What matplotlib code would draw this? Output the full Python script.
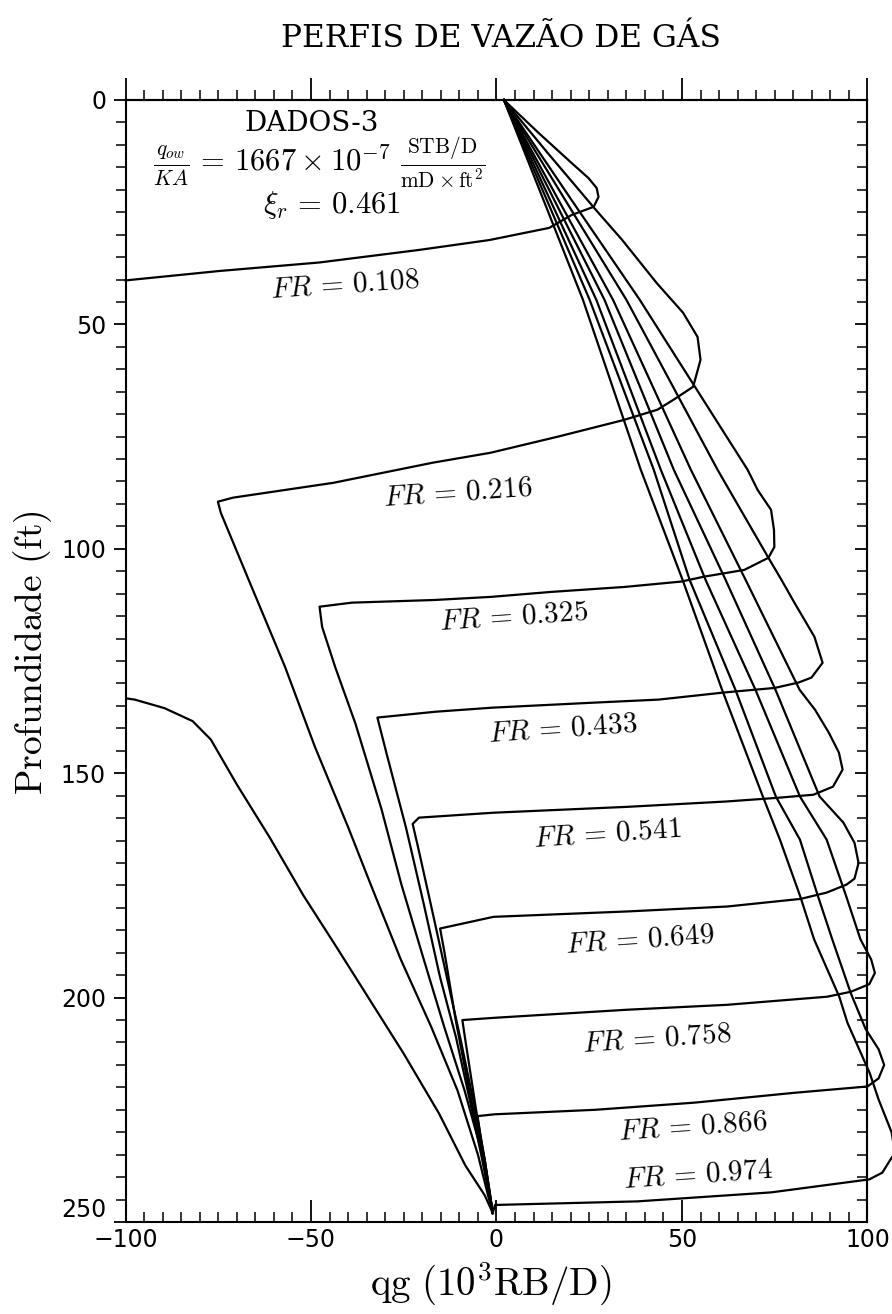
import matplotlib
matplotlib.use('Agg')
import matplotlib.pyplot as plt
from matplotlib.ticker import MultipleLocator

plt.rcParams['mathtext.fontset'] = 'cm'

# gas rate qg (10^3 RB/D) vs depth (ft)
q_108 = [2, 11.3, 20.2, 24.8, 27.0, 27.5, 26.2, 20.3, 14.2, -1.9, -20.8, -47.7, -74.7, -100]
d_108 = [0, 7.3, 14.0, 17.4, 19.6, 21.6, 23.8, 25.6, 28.5, 31.2, 33.4, 36.2, 38.1, 40.2]

q_216 = [2, 14, 26.8, 33.9, 43.2, 50.3, 54.2, 55.0, 53.0, 47.7, 43.4, 34.3, 16.6, -1.6, -17.1, -44.0,
         -71.0, -75.1, -74.3, -66.0, -57.0, -49.0, -40.0, -34.0, -25.8, -17.6, -10.5, -5.0, -2.3, -1.0]
d_216 = [0, 12, 24.5, 31.2, 40.8, 47.4, 52.8, 57.9, 63.9, 66.8, 69.0, 71.3, 75.0, 78.6, 80.8, 85.3,
         88.6, 89.5, 92.0, 108.5, 126.3, 144.0, 162.0, 174.6, 191.5, 206.5, 220.7, 235.0, 244.0, 248.0]

q_325 = [2, 20, 38.6, 67.7, 70.4, 74.0, 74.8, 74.9, 73.3, 66.8, 56.0, 49.8, 34.5, 14.8, -1.3, -16.6,
         -39.0, -47.7, -47.0, -43.5, -38.0, -31.0, -25.7, -19.6, -14.1, -8.6, -3.8, -1.0]
d_325 = [0, 22, 44.5, 82.4, 86.9, 91.3, 95.8, 99.6, 102.0, 104.7, 106.2, 107.3, 108.5, 109.6, 110.7, 111.4,
         112.0, 112.9, 117.4, 126.3, 139.0, 158.0, 174.6, 191.5, 206.5, 220.7, 235.0, 248.0]

q_433 = [2, 35.0, 59.6, 73.3, 76.8, 80.3, 83.0, 85.7, 87.9, 84.9, 81.4, 75.0, 61.5, 43.7, 25.7, -1.2,
         -16.4, -32.1, -29.7, -24.4, -19.7, -15.2, -10.9, -7.1, -3.9, -1.0]
d_433 = [0, 44.5, 82.4, 102.0, 106.9, 112.0, 115.8, 119.6, 125.4, 128.7, 129.8, 131.0, 132.0, 133.6, 134.3, 135.4,
         136.3, 137.6, 145.4, 162.1, 178.8, 195.5, 208.9, 223.2, 235.9, 248.0]

q_541 = [2, 31.4, 52.4, 67.2, 81.7, 85.9, 89.6, 92.3, 93.3, 90.7, 85.4, 75.5, 62.0, 35.1, -0.8, -20.9,
         -22.6, -21.0, -17.5, -13.5, -9.5, -6.0, -3.2, -1.0]
d_541 = [0, 44.5, 82.4, 107.0, 131.4, 135.9, 141.0, 145.4, 149.2, 153.0, 154.8, 155.5, 156.3, 157.5, 158.8, 159.9,
         161.3, 167.0, 180.0, 195.0, 210.0, 224.0, 236.0, 248.0]

q_649 = [2, 29.1, 47.8, 61.8, 75.2, 87.1, 93.5, 96.5, 97.6, 96.5, 94.4, 89.0, 82.0, 62.2, 35.3, -0.8,
         -15.2, -14.0, -11.0, -7.5, -4.0, -1.0]
d_649 = [0, 44.5, 82.4, 107.0, 131.4, 155.2, 161.0, 165.5, 170.0, 173.5, 174.8, 176.6, 178.0, 179.7, 180.8, 182.0,
         184.6, 190.0, 205.0, 220.0, 234.0, 248.0]

q_758 = [2, 26.9, 44.3, 56.4, 69.8, 81.8, 89.0, 94.3, 98.1, 101.0, 102.0, 100.5, 95.5, 89.1, 62.2, 35.2,
         -0.6, -9.2, -8.3, -5.5, -3.0, -1.0]
d_758 = [0, 44.5, 82.4, 107.0, 131.4, 155.2, 164.8, 177.5, 187.0, 191.5, 194.5, 197.0, 198.7, 199.8, 201.6, 202.7,
         204.5, 205.0, 210.0, 225.0, 237.0, 248.0]

q_866 = [2, 25.1, 42.4, 52.1, 64.4, 75.3, 81.8, 86.5, 90.5, 95.5, 99.5, 103.0, 104.5, 103.0, 100.0, 80.4,
         53.4, 26.5, -0.5, -5.1, -4.3, -2.5, -1.0]
d_866 = [0, 44.5, 82.4, 107.0, 131.4, 155.2, 164.8, 177.0, 187.0, 199.0, 207.0, 211.5, 215.0, 218.0, 219.8, 221.2,
         223.4, 225.0, 226.0, 226.4, 231.0, 240.0, 248.0]

q_974 = [2, 23.3, 38.9, 50.2, 60.8, 71.8, 76.4, 81.9, 85.6, 92.4, 94.6, 100.6, 103.0, 106.5, 107.4, 104.0,
         100.5, 74.0, 38.0, -0.4, -1.0]
d_974 = [0, 44.5, 82.4, 107.0, 131.4, 155.2, 164.8, 177.5, 187.0, 199.8, 205.6, 216.8, 222.7, 230.0, 234.5, 239.0,
         240.5, 243.4, 245.4, 246.2, 248.0]

# unlabeled curve entering from the left edge
q_left = [-100, -97.5, -89.5, -81.9, -77.0, -70.0, -61.0, -52.0, -43.0, -34.0, -25.0, -15.5, -8.4, -3.2, -1.0]
d_left = [133.3, 133.6, 135.5, 138.4, 142.5, 152.5, 164.5, 177.3, 188.9, 200.7, 212.5, 225.8, 237.4, 244.0, 248.0]

fr_names = ['0.108', '0.216', '0.325', '0.433', '0.541', '0.649', '0.758', '0.866', '0.974']
curves = [(q_108, d_108), (q_216, d_216), (q_325, d_325), (q_433, d_433), (q_541, d_541),
          (q_649, d_649), (q_758, d_758), (q_866, d_866), (q_974, d_974)]

fig = plt.figure(figsize=(8.92, 13.14), dpi=100)
ax = fig.add_axes([0.1407, 0.0700, 0.8318, 0.8539])

for q, d in curves:
    ax.plot(q, d, color='black', lw=1.6, clip_on=False, solid_joinstyle='round')
ax.plot(q_left, d_left, color='black', lw=1.6)

# where each FR label sits (data coords)
label_xy = [(-41, 41), (-10.4, 87.5), (4.6, 115.1), (17.8, 140), (29.8, 163.3),
            (38.6, 187), (43.3, 209), (52.9, 228.7), (54.3, 239.4)]
for name, (lx, ly) in zip(fr_names, label_xy):
    ax.text(lx, ly, r'$FR\,=\,%s$' % name, fontsize=21, ha='center', va='center', rotation=4)

ax.text(-49.8, 5.3, 'DADOS-3', family='DejaVu Serif', fontsize=20, ha='center', va='center')
ax.text(-47.8, 14.0, r'$\frac{q_{ow}}{KA}\,=\,1667 \times 10^{-7}\ \frac{\mathrm{STB/D}}{\mathrm{mD}\times\mathrm{ft}^{2}}$',
        fontsize=22, ha='center', va='center')
ax.text(-44.3, 23.3, r'$\xi_r\,=\,0.461$', fontsize=22, ha='center', va='center')

ax.set_xlim(-100, 100)
ax.set_ylim(250, 0)

ax.set_yticks([0, 50, 100, 150, 200, 250])
ax.xaxis.set_major_locator(MultipleLocator(50))
ax.xaxis.set_minor_locator(MultipleLocator(5))
ax.yaxis.set_minor_locator(MultipleLocator(5))
ax.tick_params(axis='x', which='both', direction='in', top=False, labelsize=17, pad=4)
ax.tick_params(axis='y', which='both', direction='out', right=False, labelsize=17, pad=5)
ax.tick_params(axis='x', which='major', length=16, width=1.3)
ax.tick_params(axis='x', which='minor', length=7, width=1.1)
ax.tick_params(axis='y', which='major', length=9, width=1.3)
ax.tick_params(axis='y', which='minor', length=7, width=1.1)
# lift the bottom depth label so it clears the -100 label below it
ax.get_yticklabels()[-1].set_verticalalignment('bottom')

# top and right frames carry ticks only
top = ax.secondary_xaxis('top')
top.xaxis.set_major_locator(MultipleLocator(50))
top.xaxis.set_minor_locator(MultipleLocator(5))
top.tick_params(which='both', direction='out', labeltop=False)
top.tick_params(which='major', length=16, width=1.3)
top.tick_params(which='minor', length=7, width=1.1)

right = ax.secondary_yaxis('right')
right.yaxis.set_major_locator(MultipleLocator(50))
right.yaxis.set_minor_locator(MultipleLocator(5))
right.tick_params(which='both', direction='in', labelright=False)
right.tick_params(which='major', length=9, width=1.3)
right.tick_params(which='minor', length=7, width=1.1)

for sp in list(ax.spines.values()) + [top.spines['top'], right.spines['right']]:
    sp.set_linewidth(1.5)

fig.text(0.562, 0.971, 'PERFIS DE VAZÃO DE GÁS', family='DejaVu Serif', fontsize=22.5,
         ha='center', va='center')
fig.text(491 / 892, 1 - 1283 / 1314, r'$\mathrm{qg}\ (10^3\mathrm{RB/D})$', fontsize=28,
         ha='center', va='center')
fig.text(33 / 892, 0.503, r'$\mathrm{Profundidade\ (ft)}$', fontsize=27, rotation=90,
         ha='center', va='center')

fig.savefig('out.png', dpi=100)
